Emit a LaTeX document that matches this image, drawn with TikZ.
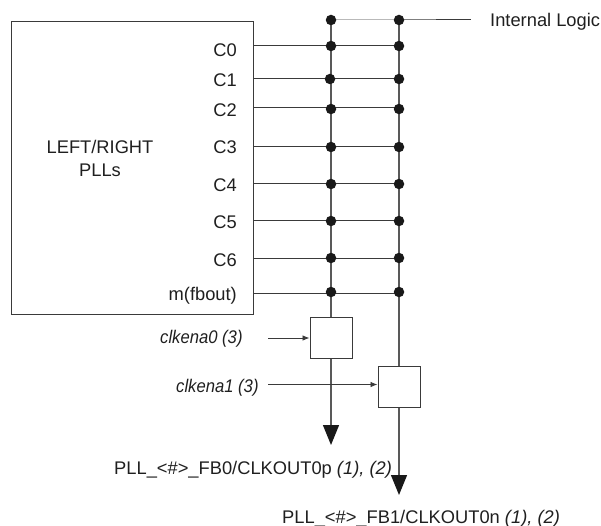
\documentclass[tikz,border=0pt]{standalone}
\usepackage{fontspec}
\setmainfont{Liberation Sans}
\usetikzlibrary{arrows.meta}
\definecolor{wire}{HTML}{3A3A3A}
\newfontfamily\condit[FakeStretch=0.91,ItalicFont={Liberation Sans Italic}]{Liberation Sans}
\tikzset{
  lbl/.style={inner sep=0pt,font=\fontsize{18.3}{23}\selectfont,text=black!88},
  ilbl/.style={lbl,anchor=base west,font=\fontsize{18.3}{23}\selectfont\condit\itshape},
  wireline/.style={draw=wire,line width=1pt},
  railline/.style={draw=black!65,line width=1.3pt},
  dot/.style={circle,fill=black!90,draw=none,minimum size=10.5pt,inner sep=0pt},
  gatebox/.style={draw=wire,fill=white,line width=1pt,minimum width=42pt,minimum height=41pt,inner sep=0pt},
  small/.style={-{Latex[length=7pt,width=5.5pt]},draw=wire,line width=.8pt},
  big/.style={-{Triangle[length=20pt,width=16pt,color=black!90]},railline}
}
\begin{document}
\begin{tikzpicture}[x=1pt,y=-1pt]
\useasboundingbox (0,0) rectangle (601,526);
\node[draw=wire,line width=1pt,minimum width=242pt,minimum height=293pt,inner sep=0pt,anchor=north west] (pll) at (11,21) {};
% rails
\coordinate (r0) at (331,20);
\coordinate (r1) at (399,20);
\coordinate (il) at (471,20);
\node[gatebox] (g0) at (331,337.5) {};
\node[gatebox] (g1) at (399,386.5) {};
\coordinate (e0) at (331,445);
\coordinate (e1) at (399,495);
\draw[railline] (r0) -- (g0.north);
\draw[railline] (r1) -- (g1.north);
\draw[big] (g0.south) -- (e0);
\draw[big] (g1.south) -- (e1);
\draw[wireline] (r0) -- (r1) -- (il);
\node[dot] at (r0) {};
\node[dot] at (r1) {};
\foreach \nm/\y/\yd/\xa/\bl in {C0/46/46/331/57,C1/79/79/330/87,C2/108/109/331/117,C3/147/147/331/154,C4/184/184/331/192,C5/221/221/331/229,C6/258/258/331/266,m(fbout)/293/292/331/300}{
  \coordinate (a) at (253,\y);
  \coordinate (b) at (399,\y);
  \draw[wireline] (a) -- (b);
  \node[dot] at (\xa,\yd) {};
  \node[dot] at (399,\yd) {};
  \node[lbl,anchor=base east] at (237,\bl) {\nm};
}
\node[lbl,anchor=base west] (iltext) at (490,27) {Internal Logic};
\node[lbl,align=center] (plltext) at (100,158) {LEFT/RIGHT\\PLLs};
\coordinate (c0) at (268,338);
\coordinate (c1) at (268,384.5);
\node[ilbl] (t0) at (160,343) {clkena0 (3)};
\node[ilbl] (t1) at (176,392) {clkena1 (3)};
\draw[small] (c0) -- (g0.west |- c0);
\draw[small] (c1) -- (g1.west |- c1);
\node[lbl,anchor=base west] (o0) at (114,474) {PLL\_<\#>\_FB0/CLKOUT0p \textit{(1), (2)}};
\node[lbl,anchor=base west] (o1) at (282,523) {PLL\_<\#>\_FB1/CLKOUT0n \textit{(1), (2)}};
\end{tikzpicture}
\end{document}
